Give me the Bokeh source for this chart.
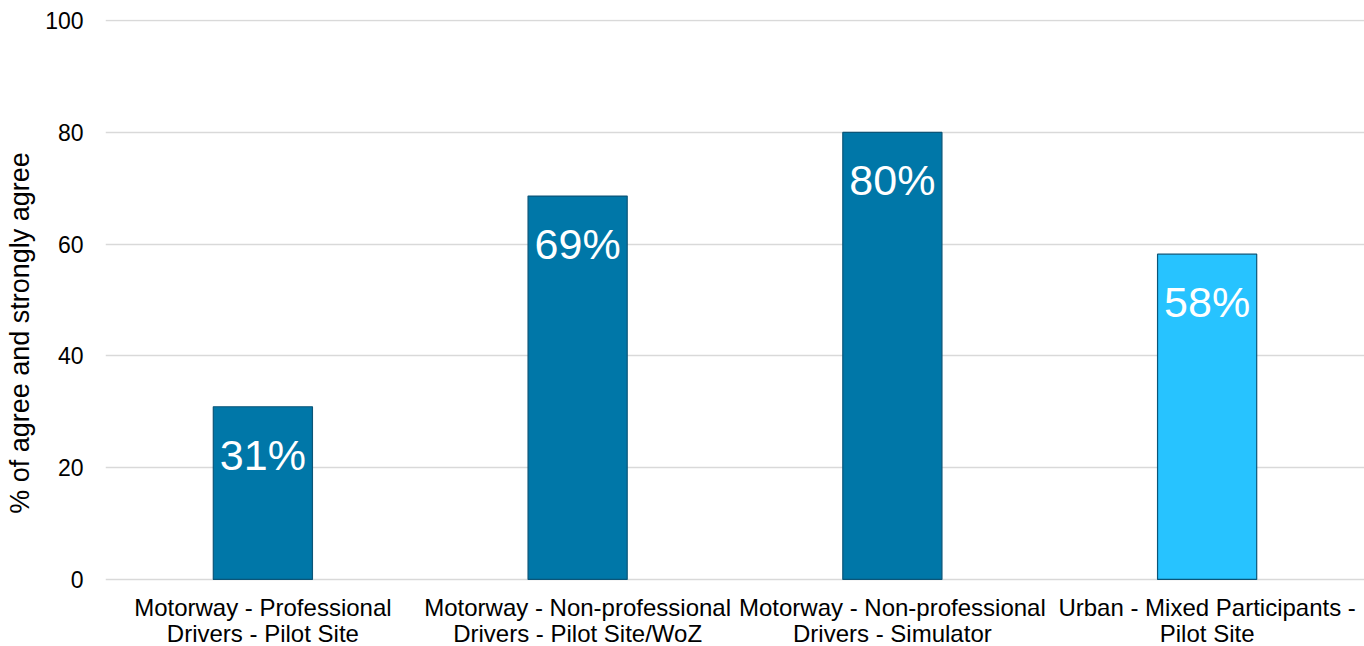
from bokeh.plotting import figure
from bokeh.models import ColumnDataSource, FixedTicker, Range1d
from bokeh.embed import file_html
from bokeh.resources import INLINE
from bokeh.core.properties import value

categories = [
    "Motorway - Professional\nDrivers - Pilot Site",
    "Motorway - Non-professional\nDrivers - Pilot Site/WoZ",
    "Motorway - Non-professional\nDrivers - Simulator",
    "Urban - Mixed Participants -\nPilot Site",
]
values = [30.9, 68.6, 80.0, 58.2]
labels = ["31%", "69%", "80%", "58%"]
colors = ["#0077A8", "#0077A8", "#0077A8", "#27C3FF"]
y_ticks = [0, 20, 40, 60, 80, 100]

line1 = [c.split("\n")[0] for c in categories]
line2 = [c.split("\n")[1] for c in categories]

src = ColumnDataSource(dict(cat=categories, val=values, lab=labels, col=colors,
                            l1=line1, l2=line2,
                            y1=[-5.0] * len(categories), y2=[-9.65] * len(categories)))

p = figure(x_range=categories, y_range=Range1d(-12.0, 100.2), width=1364, height=646,
           output_backend="svg", toolbar_location=None,
           min_border_left=105, min_border_right=0, min_border_top=19, min_border_bottom=0)
p.outline_line_color = None
p.background_fill_color = "white"

p.vbar(x="cat", top="val", width=0.315, source=src, fill_color="col",
       line_color="#0B5578", line_width=1.2)
p.text(x="cat", y="val", text="lab", source=src, text_color="white",
       text_font=value("Liberation Sans"), text_font_size="43px",
       text_align="center", text_baseline="middle", y_offset=48)

for col, ycol in (("l1", "y1"), ("l2", "y2")):
    p.text(x="cat", y=ycol, text=col, source=src,
           text_font=value("Liberation Sans"), text_font_size="24px",
           text_color="#000000", text_align="center", text_baseline="alphabetic")

p.xaxis.visible = False
p.xgrid.grid_line_color = None
p.ygrid.grid_line_color = "#D9D9D9"
p.ygrid.grid_line_width = 1.5
p.yaxis.ticker = FixedTicker(ticks=y_ticks)
ax = p.yaxis[0]
ax.axis_line_color = None
ax.major_tick_line_color = None
ax.minor_tick_line_color = None
ax.major_label_text_font = "Liberation Sans"
ax.major_label_text_font_size = "23px"
ax.major_label_text_color = "#000000"
ax.major_label_standoff = 16
ax.axis_label = "% of agree and strongly agree"
ax.axis_label_text_font = "Liberation Sans"
ax.axis_label_text_font_size = "27px"
ax.axis_label_text_font_style = "normal"
ax.axis_label_text_color = "#000000"
ax.axis_label_standoff = 7

open("out.html", "w").write(file_html(p, INLINE))
